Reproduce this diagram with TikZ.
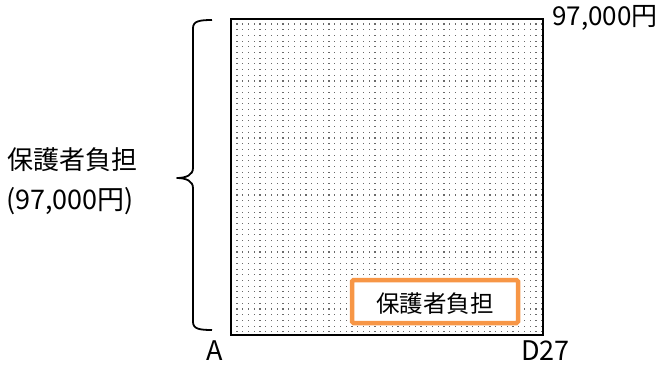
\documentclass[tikz,border=0pt]{standalone}
\usepackage{fontspec}
\setmainfont{Noto Sans CJK JP}
\definecolor{boxorange}{HTML}{F79646}
\definecolor{dotgray}{HTML}{6A6A6A}
\tikzset{
  frame/.style={draw=black, line width=2.6pt},
  brace/.style={draw=black, line width=1.8pt, line join=round},
  label/.style={inner sep=0pt, font=\fontsize{26}{30}\selectfont},
  tag/.style={draw=boxorange, line width=4.5pt, fill=white, rounded corners=1.5pt},
}
\begin{document}
\begin{tikzpicture}[x=1pt, y=-1pt]
\useasboundingbox (0,0) rectangle (659,365);
% dots
\begin{scope}
\clip (231,19) rectangle (543,335);
\foreach \i in {0,...,53}{
  \foreach \j in {0,...,55}{
    \fill[dotgray] ({237+5.75*\i-0.55},{24+5.7*\j-0.55}) rectangle ++(1.1,1.1);
  }
}
\end{scope}
\node[frame, minimum width=312pt, minimum height=316pt, inner sep=0pt] (area) at (387,177) {};
\node[tag, minimum width=166pt, minimum height=43pt, inner sep=0pt] (tagbox) at (435,301.5) {};
\node[label, anchor=center, font=\fontsize{23.5}{28}\selectfont] (tagtext) at (435,304) {保護者負担};
% brace
\coordinate (btop) at (212,20);
\coordinate (bbot) at (212,330);
\coordinate (btip) at (177,178);
\draw[brace] (btop) .. controls (200,20) and (193,21) .. (193,28)
  -- (193,168) .. controls (193,175) and (186,178) .. (btip)
  .. controls (186,178) and (193,181) .. (193,188)
  -- (193,322) .. controls (193,329) and (200,330) .. (bbot);
% labels
\node[label, anchor=west] (toplab) at (552,18) {97,000円};
\node[label, anchor=center, font=\fontsize{27}{30}\selectfont] (alab) at (215,351) {A};
\node[label, anchor=west, font=\fontsize{27}{30}\selectfont] (dlab) at (521,351) {D27};
\node[label, anchor=west] (who) at (7,160) {保護者負担};
\node[label, anchor=west, font=\fontsize{27}{30}\selectfont] (amt) at (6,201) {(97,000円)};
\end{tikzpicture}
\end{document}
